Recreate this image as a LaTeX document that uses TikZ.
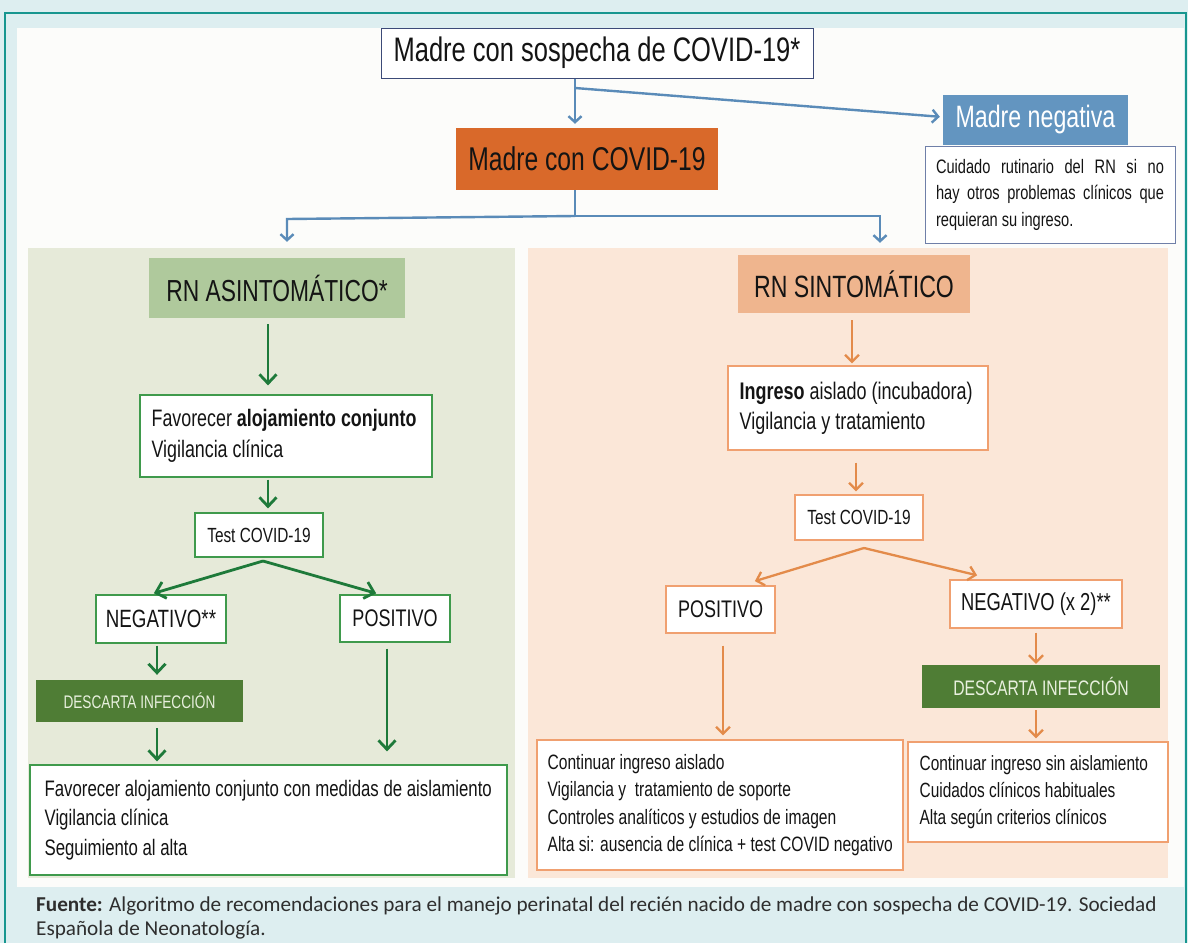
\documentclass[tikz,border=0pt]{standalone}
\usepackage{fontspec}
\setmainfont{Liberation Sans}[FakeStretch=0.75]
\newfontfamily\capfont{Carlito}
\usetikzlibrary{arrows.meta}
\definecolor{bgcyan}{HTML}{DDEEF0}
\definecolor{tealline}{HTML}{17968F}
\definecolor{panelw}{HTML}{FCFCFA}
\definecolor{b1border}{HTML}{3C4A78}
\definecolor{cuborder}{HTML}{6F7FA8}
\definecolor{arrblue}{HTML}{5A8BB8}
\definecolor{negblue}{HTML}{6395C0}
\definecolor{covorange}{HTML}{D9692A}
\definecolor{lgreen}{HTML}{E6EAD9}
\definecolor{titgreen}{HTML}{AFC99C}
\definecolor{dgreen}{HTML}{1E7A3A}
\definecolor{gborder}{HTML}{3F9A4C}
\definecolor{descgreen}{HTML}{4F7D35}
\definecolor{descText}{HTML}{E8F0DE}
\definecolor{lpeach}{HTML}{FBE7D8}
\definecolor{titpeach}{HTML}{EFB58E}
\definecolor{arrorange}{HTML}{E38B4A}
\definecolor{oborder}{HTML}{F0A070}
\definecolor{txt}{HTML}{141414}
\definecolor{capgray}{HTML}{2E2E2E}
\newcommand\fsz[2]{\fontsize{#1}{#2}\selectfont}
\tikzset{
  box/.style={inner sep=0pt, align=center, text=txt},
  ltext/.style={inner sep=0pt, align=left, text=txt, anchor=west},
  bline/.style={draw=arrblue, line width=2.4pt},
  barr/.style={bline, -{Straight Barb[length=6pt,width=13pt,line width=2.4pt]}},
  garr/.style={draw=dgreen, line width=2.8pt, -{Straight Barb[length=9pt,width=17pt,line width=2.8pt]}},
  oarr/.style={draw=arrorange, line width=2.3pt, -{Straight Barb[length=7pt,width=14pt,line width=2.3pt]}},
}
\begin{document}
\begin{tikzpicture}[x=1pt,y=-1pt]
\useasboundingbox (0,0) rectangle (1188,943);
\fill[bgcyan] (0,0) rectangle (1188,943);
\draw[tealline, line width=1.6pt] (5,943) -- (5,13) -- (1186,13) -- (1186,943);
\fill[panelw] (17,28) rectangle (1184,887);

% top
\node[box, draw=b1border, line width=1pt, fill=white, minimum width=432pt, minimum height=50pt, font={\fsz{34}{40}}] (m1) at (597,53) {Madre con sospecha de COVID-19*};
\node[box, fill=negblue, text=white, minimum width=185pt, minimum height=50pt, font={\fsz{30.9}{36}}] (neg) at (1035.5,120) {Madre negativa};
\node[box, draw=cuborder, line width=1pt, fill=white, minimum width=250pt, minimum height=97pt, text width=228pt, align=justify, font={\fsz{19.5}{26.5}}] (cuid) at (1050,194.5) {Cuidado rutinario del RN si no\linebreak hay otros problemas clínicos que\linebreak requieran su ingreso.};
\node[box, fill=covorange, minimum width=262pt, minimum height=62pt, font={\fsz{32.9}{38}}] (covid) at (587,159) {Madre con COVID-19};

% panels
\node[box, fill=lgreen, minimum width=487pt, minimum height=630pt] (Lpanel) at (271.5,563) {};
\node[box, fill=lpeach, minimum width=640pt, minimum height=630pt] (Rpanel) at (848,563) {};

% blue connectors
\coordinate (bs1) at (575,88);
\draw[bline] (575,0 |- m1.south) -- (bs1);
\draw[barr, shorten >=4pt] (bs1) -- (575,0 |- covid.north);
\draw[barr, shorten >=3pt] (bs1) -- ([yshift=3pt]neg.west);
\coordinate (bs2) at (575,216);
\draw[bline] (575,0 |- covid.south) -- (bs2);
\draw[barr, shorten >=6pt] (bs2) -- (287,219) -- (287,0 |- Lpanel.north);
\draw[barr, shorten >=5pt] (bs2) -- (880,216) -- (880,0 |- Rpanel.north);

% left branch
\node[box, fill=titgreen, minimum width=256pt, minimum height=60pt, font={\fsz{30.4}{36}}] (asint) at (277,288) {RN ASINTOMÁTICO*};
\node[box, draw=gborder, line width=1.2pt, fill=white, minimum width=292pt, minimum height=82pt] (fav) at (286,436) {};
\node[ltext, font={\fsz{23.8}{31}}] (favT) at ([xshift=12pt]fav.west) {Favorecer \textbf{alojamiento conjunto}\\Vigilancia clínica};
\node[box, draw=gborder, line width=1.2pt, fill=white, minimum width=128pt, minimum height=44pt, font={\fsz{20.5}{24}}] (testL) at (259,535) {Test COVID-19};
\node[box, draw=gborder, line width=1.2pt, fill=white, minimum width=130pt, minimum height=48pt, font={\fsz{25}{30}}] (negL) at (161,619) {NEGATIVO**};
\node[box, draw=gborder, line width=1.2pt, fill=white, minimum width=110pt, minimum height=47pt, font={\fsz{24}{28}}] (posL) at (395,618.5) {POSITIVO};
\node[box, fill=descgreen, text=descText, minimum width=207pt, minimum height=42pt, font={\fsz{18.2}{22}}] (descL) at (139.5,701) {DESCARTA INFECCIÓN};
\node[box, draw=gborder, line width=1.2pt, fill=white, minimum width=477pt, minimum height=110pt] (botL) at (268.5,820) {};
\node[ltext, font={\fsz{22.4}{29.5}}] (botLT) at ([xshift=15pt]botL.west) {Favorecer alojamiento conjunto con medidas de aislamiento\\Vigilancia clínica\\Seguimiento al alta};

\draw[garr, shorten <=6pt, shorten >=9pt] (268,0 |- asint.south) -- (268,0 |- fav.north);
\draw[garr, shorten <=2pt, shorten >=4pt] (268,0 |- fav.south) -- (268,0 |- testL.north);
\coordinate (tl) at (263,561);
\draw[garr, shorten >=4pt] (tl) -- (150,0 |- negL.north);
\draw[garr, shorten >=4pt] (tl) -- (380,0 |- posL.north);
\draw[garr, shorten <=2pt, shorten >=5pt] (157,0 |- negL.south) -- (157,0 |- descL.north);
\draw[garr, shorten <=6pt, shorten >=3pt] (157,0 |- descL.south) -- (157,0 |- botL.north);
\draw[garr, shorten <=6pt, shorten >=13pt] (387,0 |- posL.south) -- (387,0 |- botL.north);

% right branch
\node[box, fill=titpeach, minimum width=232pt, minimum height=58pt, font={\fsz{30.8}{36}}] (sint) at (854,284) {RN SINTOMÁTICO};
\node[box, draw=oborder, line width=1.2pt, fill=white, minimum width=260pt, minimum height=84pt] (ingr) at (858,408) {};
\node[ltext, font={\fsz{24}{30}}] (ingrT) at ([xshift=12pt]ingr.west) {\textbf{Ingreso} aislado (incubadora)\\Vigilancia y tratamiento};
\node[box, draw=oborder, line width=1.2pt, fill=white, minimum width=128pt, minimum height=45pt, font={\fsz{20.5}{24}}] (testR) at (859,517.5) {Test COVID-19};
\node[box, draw=oborder, line width=1.2pt, fill=white, minimum width=109pt, minimum height=47pt, font={\fsz{24}{28}}] (posR) at (720.5,609.5) {POSITIVO};
\node[box, draw=oborder, line width=1.2pt, fill=white, minimum width=172pt, minimum height=48pt, font={\fsz{24.5}{29}}] (negR) at (1036,604) {NEGATIVO (x 2)**};
\node[box, fill=descgreen, text=descText, minimum width=238pt, minimum height=43pt, font={\fsz{21}{25}}] (descR) at (1041,686.5) {DESCARTA INFECCIÓN};
\node[box, draw=oborder, line width=1.2pt, fill=white, minimum width=366pt, minimum height=130pt] (botR1) at (720,805) {};
\node[ltext, font={\fsz{20.8}{27.5}}] (botR1T) at ([xshift=11pt]botR1.west) {Continuar ingreso aislado\\Vigilancia y \ tratamiento de soporte\\Controles analíticos y estudios de imagen\\Alta si: ausencia de clínica + test COVID negativo};
\node[box, draw=oborder, line width=1.2pt, fill=white, minimum width=260pt, minimum height=100pt] (botR2) at (1038,792) {};
\node[ltext, font={\fsz{20.6}{27}}] (botR2T) at ([xshift=12pt]botR2.west) {Continuar ingreso sin aislamiento\\Cuidados clínicos habituales\\Alta según criterios clínicos};

\draw[oarr, shorten <=7pt, shorten >=2pt] (852,0 |- sint.south) -- (852,0 |- ingr.north);
\draw[oarr, shorten <=12pt, shorten >=3pt] (856,0 |- ingr.south) -- (856,0 |- testR.north);
\coordinate (tr) at (864,548);
\draw[oarr, shorten >=3pt] (tr) -- (752,582);
\draw[oarr, shorten >=3pt] (tr) -- (980,576);
\draw[oarr, shorten <=4pt, shorten >=1pt] (1036,0 |- negR.south) -- (1036,0 |- descR.north);
\draw[oarr, shorten <=2pt, shorten >=3pt] (1036,0 |- descR.south) -- (1036,0 |- botR2.north);
\draw[oarr, shorten <=12pt, shorten >=4pt] (723,0 |- posR.south) -- (723,0 |- botR1.north);

% caption
\node[anchor=base west, inner sep=0pt, align=left, text=capgray, font={\capfont\fsz{21.2}{24}}] (cap) at (36,935) {\textbf{Fuente:} Algoritmo de recomendaciones para el manejo perinatal del recién nacido de madre con sospecha de COVID-19. Sociedad\\Española de Neonatología.};
\end{tikzpicture}
\end{document}
